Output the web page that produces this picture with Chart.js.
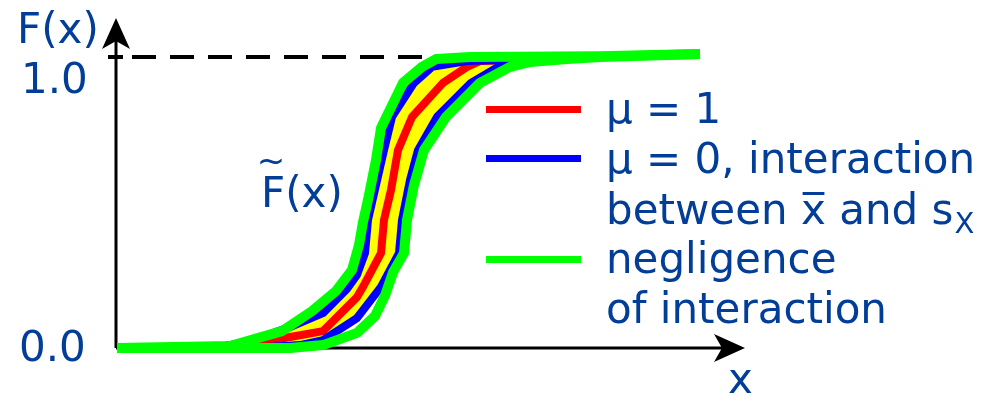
<!DOCTYPE html>
<html>
<head>
<meta charset="utf-8">
<script src="https://cdn.jsdelivr.net/npm/chart.js@4/dist/chart.umd.min.js"></script>
<style>
  html, body { margin: 0; padding: 0; background: #fff; }
  #wrap { width: 998px; height: 396px; position: relative; }
</style>
</head>
<body>
<div id="wrap"><canvas id="cdf"></canvas></div>
<script>
// empirical distribution functions, x in arbitrary units, F(x) in [0, 1]
const outerLeft = [[0,0],[1.13,0.007],[1.65,0.058],[1.95,0.127],[2.19,0.196],[2.35,0.268],[2.42,0.354],[2.46,0.433],[2.51,0.509],[2.59,0.646],[2.64,0.756],[2.86,0.911],[3.05,0.966],[3.19,0.993],[3.53,1.0],[4.83,1.003],[5.83,1.010]];
const outerRight = [[0,0],[1.73,0],[2.06,0.010],[2.40,0.052],[2.58,0.110],[2.68,0.180],[2.76,0.260],[2.87,0.326],[2.90,0.440],[2.97,0.560],[3.07,0.680],[3.29,0.794],[3.63,0.911],[3.93,0.966],[4.13,0.983],[4.50,0.993],[4.83,1.0],[5.83,1.010]];
const innerLeft = [[1.0,0],[1.33,0.024],[1.73,0.072],[2.06,0.120],[2.30,0.203],[2.40,0.251],[2.48,0.326],[2.51,0.440],[2.67,0.680],[2.75,0.794],[2.97,0.911],[3.15,0.966],[3.50,0.986],[3.83,0.990],[4.43,0.997]];
const innerRight = [[1.33,0],[1.83,0.010],[2.06,0.027],[2.40,0.103],[2.64,0.210],[2.82,0.326],[2.85,0.440],[2.93,0.577],[3.01,0.680],[3.20,0.794],[3.54,0.911],[3.81,0.966],[4.03,0.983],[4.43,0.993]];
const muOne = [[0.83,0],[1.50,0.021],[1.73,0.038],[2.06,0.058],[2.40,0.175],[2.46,0.210],[2.64,0.326],[2.67,0.440],[2.74,0.543],[2.81,0.680],[2.95,0.794],[3.26,0.911],[3.50,0.966],[3.63,0.986],[4.03,0.990],[4.43,0.997]];

const yTicks = ['0.0', '1.0'];

const TXT = '#023e98';
const FONT = '42px "DejaVu Sans"';

const pts = arr => arr.map(p => ({ x: p[0], y: p[1] }));

function line(data, color, width, extra) {
  return Object.assign({
    data: pts(data),
    borderColor: color,
    borderWidth: width,
    pointRadius: 0,
    tension: 0,
    fill: false,
    clip: false,
    borderJoinStyle: 'round'
  }, extra || {});
}

function arrow(ctx, tipX, tipY, dir) {
  // dir: 'up' or 'right'
  ctx.beginPath();
  if (dir === 'up') {
    ctx.moveTo(tipX, tipY);
    ctx.lineTo(tipX + 14, tipY + 31);
    ctx.lineTo(tipX, tipY + 23);
    ctx.lineTo(tipX - 14, tipY + 31);
  } else {
    ctx.moveTo(tipX, tipY);
    ctx.lineTo(tipX - 31, tipY - 14);
    ctx.lineTo(tipX - 23, tipY);
    ctx.lineTo(tipX - 31, tipY + 14);
  }
  ctx.closePath();
  ctx.fill();
}

const axesPlugin = {
  id: 'axes',
  beforeDraw(chart) {
    const ctx = chart.ctx;
    const { left, right, bottom } = chart.chartArea;
    const y1 = chart.scales.y.getPixelForValue(1);
    ctx.save();
    ctx.strokeStyle = '#000';
    ctx.fillStyle = '#000';
    ctx.lineWidth = 3;
    // y axis
    ctx.beginPath();
    ctx.moveTo(left - 1, bottom);
    ctx.lineTo(left - 1, 30);
    ctx.stroke();
    arrow(ctx, left - 1, 18, 'up');
    // x axis
    ctx.beginPath();
    ctx.moveTo(left - 1, bottom);
    ctx.lineTo(right - 15, bottom);
    ctx.stroke();
    arrow(ctx, right, bottom, 'right');
    // dashed level F = 1
    ctx.lineWidth = 4;
    ctx.beginPath();
    ctx.moveTo(left - 9, y1);
    ctx.lineTo(left + 6, y1);
    ctx.stroke();
    ctx.setLineDash([24, 14]);
    ctx.beginPath();
    ctx.moveTo(left + 15, y1);
    ctx.lineTo(left + 315, y1);
    ctx.stroke();
    ctx.restore();
  },
  afterDraw(chart) {
    const ctx = chart.ctx;
    const { bottom, right } = chart.chartArea;
    const y1 = chart.scales.y.getPixelForValue(1);
    ctx.save();
    ctx.fillStyle = TXT;
    ctx.font = FONT;
    ctx.textBaseline = 'alphabetic';
    ctx.textAlign = 'left';
    ctx.fillText('F(x)', 17, 43);
    ctx.fillText(yTicks[1], 21, y1 + 36);
    ctx.fillText(yTicks[0], 19, bottom + 13);
    ctx.fillText('x', right - 17, bottom + 45);
    ctx.fillText('F(x)', 261, 207);
    // tilde over the F
    ctx.font = '34px "DejaVu Sans"';
    ctx.textAlign = 'center';
    ctx.fillText('~', 271, 172);
    ctx.textAlign = 'left';

    // legend
    const lx0 = 486, lx1 = 581, tx = 606;
    const entries = [
      { color: '#ff0000', y: 109.5 },
      { color: '#0000ff', y: 158.5 },
      { color: '#00ff00', y: 259.5 }
    ];
    ctx.lineWidth = 7;
    entries.forEach(e => {
      ctx.strokeStyle = e.color;
      ctx.beginPath();
      ctx.moveTo(lx0, e.y);
      ctx.lineTo(lx1, e.y);
      ctx.stroke();
    });
    ctx.font = FONT;
    ctx.fillText('\u03bc = 1', tx, 123);
    ctx.fillText('\u03bc = 0, interaction', tx, 173);
    const between = 'between x\u0305 and s';
    ctx.fillText(between, tx, 224);
    const w = ctx.measureText(between).width;
    ctx.font = '29px "DejaVu Sans"';
    ctx.fillText('X', tx + w + 1, 233);
    ctx.font = FONT;
    ctx.fillText('negligence', tx, 273);
    ctx.fillText('of interaction', tx, 323);
    ctx.restore();
  }
};

new Chart(document.getElementById('cdf'), {
  type: 'line',
  data: {
    datasets: [
      line(outerLeft, '#00ff00', 10),
      line(outerRight, '#00ff00', 10),
      line(innerLeft, '#0000ff', 8, { fill: 3, backgroundColor: '#ffff00' }),
      line(innerRight, '#0000ff', 8),
      line(muOne, '#ff0000', 8)
    ]
  },
  options: {
    responsive: true,
    maintainAspectRatio: false,
    animation: false,
    devicePixelRatio: 1,
    layout: { padding: { left: 117, right: 253, top: 57, bottom: 48 } },
    scales: {
      x: { type: 'linear', min: 0, max: 6.28, display: false },
      y: { min: 0, max: 1, display: false }
    },
    plugins: {
      legend: { display: false },
      tooltip: { enabled: false },
      filler: { drawTime: 'beforeDatasetsDraw' }
    },
    events: []
  },
  plugins: [axesPlugin]
});
</script>
</body>
</html>
